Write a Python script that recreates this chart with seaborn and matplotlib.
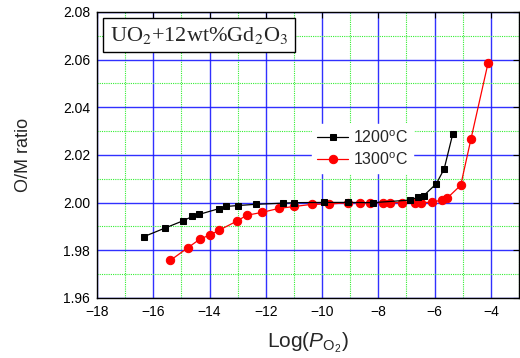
import matplotlib
matplotlib.use("Agg")
import matplotlib.pyplot as plt
import seaborn as sns
import pandas as pd
import numpy as np
from matplotlib.ticker import MultipleLocator

x_1200 = [-16.34, -15.57, -14.96, -14.61, -14.36, -13.66, -13.41, -12.98, -12.36,
          -11.38, -10.98, -9.93, -9.08, -8.18, -6.86, -6.58, -6.39, -5.94, -5.66, -5.35]
y_1200 = [1.9857, 1.9894, 1.9923, 1.9942, 1.9951, 1.9975, 1.9984, 1.9988, 1.9993,
          1.9998, 2.0000, 2.0001, 2.0001, 2.0000, 2.0011, 2.0024, 2.0029, 2.0079, 2.0141, 2.0290]

x_1300 = [-15.39, -14.78, -14.33, -13.99, -13.65, -13.02, -12.68, -12.14, -11.53,
          -10.98, -10.35, -9.75, -9.07, -8.65, -8.29, -7.83, -7.57, -7.14, -6.70,
          -6.47, -6.09, -5.74, -5.56, -5.07, -4.71, -4.10]
y_1300 = [1.9758, 1.9810, 1.9848, 1.9864, 1.9885, 1.9923, 1.9947, 1.9959, 1.9976,
          1.9984, 1.9993, 1.9994, 2.0000, 2.0000, 2.0000, 2.0000, 2.0000, 2.0000, 2.0000,
          2.0000, 2.0002, 2.0011, 2.0018, 2.0073, 2.0265, 2.0585]

labels = ["1200$^{\\rm o}$C", "1300$^{\\rm o}$C"]
x_ticks = [-18, -16, -14, -12, -10, -8, -6, -4]
y_ticks = [1.96, 1.98, 2.00, 2.02, 2.04, 2.06, 2.08]

sns.set_theme(style="white")
plt.rcParams['font.family'] = ['Liberation Sans', 'DejaVu Sans']
plt.rcParams['mathtext.fontset'] = 'custom'
plt.rcParams['mathtext.rm'] = 'Liberation Sans'
plt.rcParams['mathtext.it'] = 'Liberation Sans:italic'

df1 = pd.DataFrame({"x": x_1200, "y": y_1200})
df2 = pd.DataFrame({"x": x_1300, "y": y_1300})

fig = plt.figure(figsize=(5.2, 3.58), dpi=100)
ax = fig.add_axes([0.1865, 0.1676, 0.8115, 0.799])

sns.lineplot(data=df1, x="x", y="y", ax=ax, color="black", marker="s", markersize=5,
             markeredgecolor="black", linewidth=0.9, label=labels[0], zorder=4)
sns.lineplot(data=df2, x="x", y="y", ax=ax, color="#ff0000", marker="o", markersize=6,
             markeredgecolor="#ff0000", linewidth=0.9, label=labels[1], zorder=3)

ax.set_xlim(-18, -3)
ax.set_ylim(1.96, 2.08)
ax.set_xticks(x_ticks)
ax.set_yticks(y_ticks)
ax.set_yticklabels([f"{v:.2f}" for v in y_ticks])
ax.xaxis.set_minor_locator(MultipleLocator(1))
ax.yaxis.set_minor_locator(MultipleLocator(0.01))
ax.grid(which="major", color="#1a1aff", linewidth=1.0, linestyle="-", alpha=0.9)
ax.grid(which="minor", color="#33ee33", linewidth=0.8, linestyle=(0, (1, 1)))
ax.set_axisbelow(True)
ax.tick_params(which="major", direction="in", length=4, width=0.8, top=True, right=True,
               labelsize=10, colors="black")
ax.tick_params(axis="x", which="major", pad=5)
ax.tick_params(axis="y", which="major", pad=5)
ax.tick_params(which="minor", direction="in", length=0)
for s in ax.spines.values():
    s.set_color("black")
    s.set_linewidth(1.0)

ax.set_xlabel("Log($\\it{P}$$_{\\rm O_2}$)", fontsize=15, labelpad=8)
ax.set_ylabel("O/M ratio", fontsize=13, labelpad=22)

leg = ax.legend(loc="upper left", bbox_to_anchor=(0.49, 0.635), frameon=True, fontsize=11.5,
                handlelength=2.0, handletextpad=0.3, borderpad=0.3, labelspacing=0.35)
leg.get_frame().set_edgecolor("white")
leg.get_frame().set_facecolor("white")
leg.get_frame().set_alpha(1.0)

ax.text(0.03, 0.955, "UO$_2$+12wt%Gd$_2$O$_3$", transform=ax.transAxes, fontsize=16,
        family="Liberation Serif", va="top", ha="left", zorder=6,
        math_fontfamily="stix",
        bbox=dict(boxstyle="square,pad=0.3", facecolor="white", edgecolor="black", linewidth=1.0))

fig.savefig("out.png", dpi=100)
